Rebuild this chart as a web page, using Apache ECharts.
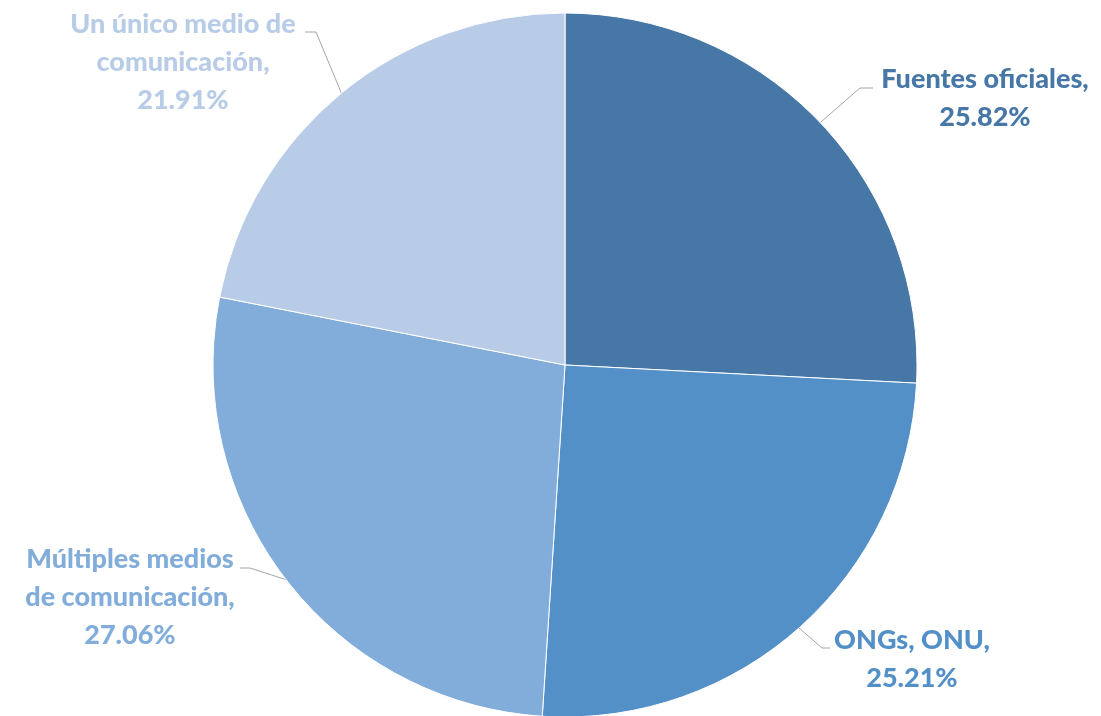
<!DOCTYPE html>
<html>
<head>
<meta charset="utf-8">
<script src="https://cdn.jsdelivr.net/npm/echarts@6/dist/echarts.min.js"></script>
<style>
html,body{margin:0;padding:0;background:#fff;}
#chart{width:1101px;height:716px;}
</style>
</head>
<body>
<div id="chart"></div>
<script>
const categories = ['Fuentes oficiales', 'ONGs, ONU', 'Múltiples medios\nde comunicación', 'Un único medio de\ncomunicación'];
const values = [25.82, 25.21, 27.06, 21.91];
const colors = ['#4677A7', '#5490C8', '#82ADDB', '#B8CCE7'];
const labelPos = [[985, 98], [912, 659], [130, 597], [183, 62]];
// leader line elbow and end (label side)
const leaderEnds = [[[860, 88], [873, 88]], [[822, 648], [830, 648]], [[250, 568], [240, 568]], [[316, 32], [305, 32]]];

const CX = 565, CY = 365, R = 352;
const total = values.reduce((a, b) => a + b, 0);
const midAngles = [];
(function () {
  let acc = 0;
  values.forEach(v => {
    const a0 = 90 - acc / total * 360;
    acc += v;
    const a1 = 90 - acc / total * 360;
    midAngles.push((a0 + a1) / 2 * Math.PI / 180);
  });
})();

const chart = echarts.init(document.getElementById('chart'));
chart.setOption({
  backgroundColor: '#ffffff',
  animation: false,
  series: [{
    type: 'pie',
    center: [CX, CY],
    radius: [0, R],
    startAngle: 90,
    clockwise: true,
    data: categories.map((c, i) => ({
      name: c, value: values[i],
      itemStyle: { color: colors[i] },
      label: { color: colors[i] }
    })),
    itemStyle: { borderColor: '#ffffff', borderWidth: 1 },
    label: {
      show: true,
      position: 'outside',
      formatter: p => p.name + ',\n' + p.value.toFixed(2) + '%',
      fontFamily: 'Lato',
      fontWeight: 900,
      fontSize: 27,
      lineHeight: 38,
      align: 'center'
    },
    labelLine: {
      show: true,
      lineStyle: { color: '#A6A6A6', width: 1 }
    },
    labelLayout: function (params) {
      const i = params.dataIndex;
      const p = labelPos[i];
      const a = midAngles[i];
      const edge = [CX + R * Math.cos(a), CY - R * Math.sin(a)];
      return {
        x: p[0], y: p[1], align: 'center', verticalAlign: 'middle',
        labelLinePoints: [edge, leaderEnds[i][0], leaderEnds[i][1]]
      };
    }
  }]
});
</script>
</body>
</html>
